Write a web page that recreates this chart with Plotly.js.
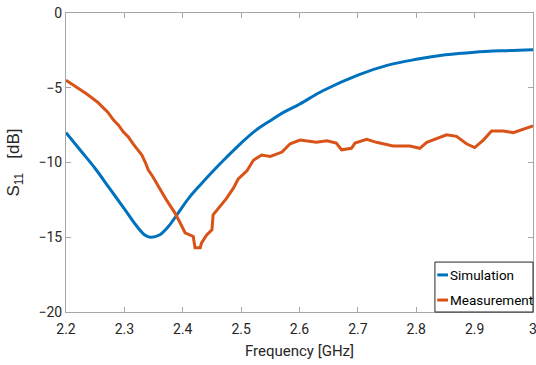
<!DOCTYPE html>
<html>
<head>
<meta charset="utf-8">
<script src="https://cdn.plot.ly/plotly-3.0.1.min.js"></script>
<style>html,body{margin:0;padding:0;background:#fff;}#chart{width:536px;height:365px;}</style>
</head>
<body>
<div id="chart"></div>
<script>
// Simulation
var simFreq = [2.200,2.225,2.250,2.275,2.300,2.320,2.335,2.345,2.360,2.375,2.390,2.410,2.430,2.450,2.475,2.500,2.525,2.550,2.575,2.600,2.640,2.700,2.750,2.800,2.850,2.900,2.950,3.000];
var simS11 = [-8.0,-9.2,-10.4,-11.75,-13.1,-14.2,-14.85,-15.0,-14.85,-14.3,-13.5,-12.4,-11.5,-10.65,-9.65,-8.7,-7.85,-7.2,-6.6,-6.1,-5.2,-4.15,-3.5,-3.1,-2.8,-2.62,-2.52,-2.45];
// Measurement
var measFreq = [2.200,2.210,2.224,2.235,2.247,2.255,2.264,2.272,2.281,2.290,2.298,2.307,2.315,2.322,2.330,2.336,2.341,2.348,2.355,2.363,2.372,2.380,2.387,2.395,2.404,2.418,2.421,2.430,2.432,2.441,2.450,2.452,2.464,2.475,2.487,2.495,2.510,2.521,2.535,2.550,2.570,2.584,2.601,2.615,2.629,2.647,2.663,2.672,2.689,2.695,2.715,2.732,2.760,2.789,2.806,2.818,2.841,2.852,2.869,2.886,2.900,2.915,2.929,2.949,2.966,2.983,3.000];
var measS11 = [-4.5,-4.75,-5.15,-5.4,-5.75,-6.0,-6.35,-6.65,-7.15,-7.5,-7.95,-8.3,-8.75,-9.1,-9.5,-10.0,-10.5,-10.9,-11.4,-11.9,-12.5,-13.0,-13.4,-14.0,-14.7,-14.95,-15.7,-15.7,-15.4,-14.85,-14.5,-13.5,-12.95,-12.4,-11.7,-11.1,-10.55,-9.85,-9.5,-9.6,-9.3,-8.75,-8.5,-8.6,-8.65,-8.55,-8.7,-9.15,-9.05,-8.7,-8.45,-8.65,-8.9,-8.9,-9.05,-8.65,-8.3,-8.15,-8.25,-8.75,-9.0,-8.5,-7.9,-7.9,-8.0,-7.8,-7.55];
var seriesNames = ['Simulation', 'Measurement'];
var seriesColors = ['#0072BD', '#D95319'];
var xTicks = [2.2,2.3,2.4,2.5,2.6,2.7,2.8,2.9,3];
var xTickText = ['2.2','2.3','2.4','2.5','2.6','2.7','2.8','2.9','3'];
var yTicks = [-20,-15,-10,-5,0];
var yTickText = ['\u221220','\u221215','\u221210','\u22125','0'];

var FONT = 'Roboto, "Liberation Sans", Arial, sans-serif';

var traces = [
  {x: simFreq, y: simS11, name: seriesNames[0], mode: 'lines', line: {color: seriesColors[0], width: 3, shape: 'spline'}},
  {x: measFreq, y: measS11, name: seriesNames[1], mode: 'lines', line: {color: seriesColors[1], width: 3}}
];

var axisCommon = {
  showgrid: false, zeroline: false, showline: true, mirror: 'ticks',
  linecolor: '#a6a6a6', linewidth: 1, ticks: 'inside', ticklen: 5, tickcolor: '#a6a6a6',
  tickfont: {family: FONT, size: 14, color: '#262626'},
  ticklabeloverflow: 'allow'
};

// legend box drawn in the axes corner (paper coordinates)
var legRows = [0.124, 0.040];
var shapes = [
  {type: 'rect', xref: 'paper', yref: 'paper', x0: 0.790, x1: 1.0, y0: 0, y1: 0.167,
   line: {color: '#262626', width: 1}, fillcolor: '#ffffff', layer: 'above'}
];
var annotations = [];
for (var i = 0; i < seriesNames.length; i++) {
  shapes.push({type: 'line', xref: 'paper', yref: 'paper', x0: 0.795, x1: 0.818, y0: legRows[i], y1: legRows[i],
    line: {color: seriesColors[i], width: 3}, layer: 'above'});
  annotations.push({xref: 'paper', yref: 'paper', x: 0.817, y: legRows[i], xanchor: 'left', yanchor: 'middle',
    text: seriesNames[i], showarrow: false, font: {family: FONT, size: 13.5, color: '#000'}});
}

var layout = {
  width: 536, height: 365,
  margin: {l: 66, r: 3, t: 13, b: 53},
  paper_bgcolor: '#fff', plot_bgcolor: '#fff',
  showlegend: false,
  shapes: shapes,
  annotations: annotations,
  xaxis: Object.assign({}, axisCommon, {
    range: [2.2, 3.0], tickvals: xTicks, ticktext: xTickText, ticklabelstandoff: 4,
    title: {text: 'Frequency [GHz]', font: {family: FONT, size: 15, color: '#262626'}, standoff: 9}
  }),
  yaxis: Object.assign({}, axisCommon, {
    range: [-20, 0], tickvals: yTicks, ticktext: yTickText,
    title: {text: 'S<sub>11</sub>&nbsp;&nbsp;&nbsp;[dB]', font: {family: '"Liberation Sans", Arial, sans-serif', size: 17, color: '#262626'}, standoff: 14}
  })
};

Plotly.newPlot('chart', traces, layout, {displayModeBar: false, staticPlot: true});
</script>
</body>
</html>
